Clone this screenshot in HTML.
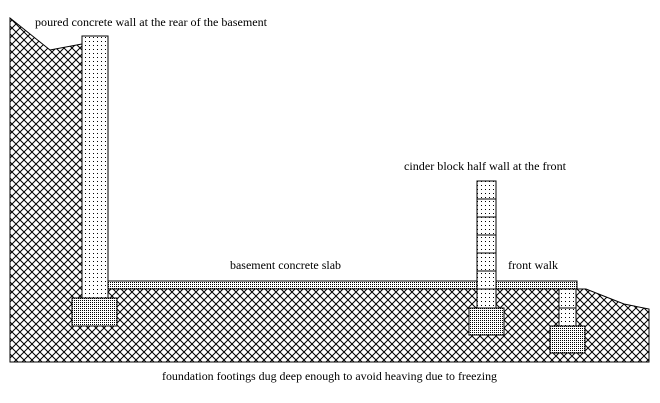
<!DOCTYPE html>
<html><head><style>body{margin:0;background:#fff}svg{display:block}text{font-family:"Liberation Serif",serif;font-size:12px;fill:#000}</style></head><body>
<svg width="660" height="403" xmlns="http://www.w3.org/2000/svg">
<defs>
<pattern id="x" width="8" height="8" patternUnits="userSpaceOnUse"><rect width="8" height="8" fill="#fff"/><path d="M0 0L8 8M8 0L0 8" stroke="#000" stroke-width="1"/></pattern>
<pattern id="d" width="4" height="4" patternUnits="userSpaceOnUse"><rect width="4" height="4" fill="#fff"/><rect x="1" y="1" width="1" height="1" fill="#000"/></pattern>
<pattern id="dd" width="2" height="2" patternUnits="userSpaceOnUse"><rect width="2" height="2" fill="#fff"/><rect width="1" height="1" fill="#000"/></pattern>
</defs>
<path d="M10 18L50 50L82 44L82 289L577 289L586 289L624 304L649 309L649 362L10 362Z" fill="url(#x)" stroke="#000"/>
<rect x="108" y="281" width="469" height="8" fill="url(#dd)" stroke="#000"/>
<rect x="82" y="36" width="26" height="262" fill="url(#d)" stroke="#000"/>
<rect x="72" y="298" width="45" height="28" fill="url(#dd)" stroke="#000"/>
<rect x="477" y="181" width="19" height="127" fill="url(#d)" stroke="#000"/>
<path d="M477 199H496M477 217H496M477 235H496M477 253H496M477 271H496M477 289H496" stroke="#000"/>
<rect x="469" y="308" width="35" height="27" fill="url(#dd)" stroke="#000"/>
<rect x="559" y="289" width="17" height="37" fill="url(#d)" stroke="#000"/>
<path d="M559 308H576" stroke="#000"/>
<rect x="550" y="326" width="35" height="27" fill="url(#dd)" stroke="#000"/>
<text x="35" y="26" textLength="232" lengthAdjust="spacingAndGlyphs">poured concrete wall at the rear of the basement</text>
<text x="404" y="170" textLength="162" lengthAdjust="spacingAndGlyphs">cinder block half wall at the front</text>
<text x="230" y="269" textLength="111" lengthAdjust="spacingAndGlyphs">basement concrete slab</text>
<text x="508" y="269" textLength="50" lengthAdjust="spacingAndGlyphs">front walk</text>
<text x="162" y="380" textLength="335" lengthAdjust="spacingAndGlyphs">foundation footings dug deep enough to avoid heaving due to freezing</text>
</svg></body></html>
